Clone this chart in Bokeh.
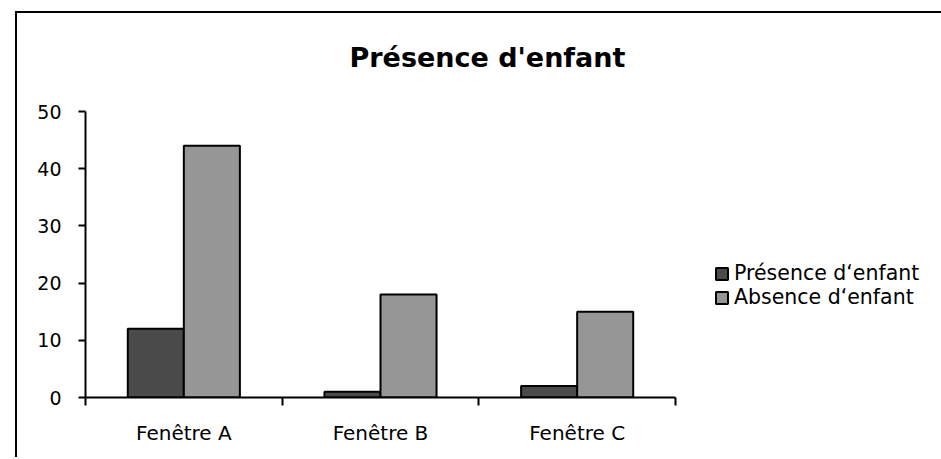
from bokeh.plotting import figure
from bokeh.models import ColumnDataSource, FixedTicker, Range1d, Legend, LegendItem
from bokeh.transform import dodge
from bokeh.embed import file_html
from bokeh.resources import INLINE

categories = ["Fenêtre A", "Fenêtre B", "Fenêtre C"]
presence = [12, 1, 2]
absence = [44, 18, 15]
series_labels = ["Présence d‘enfant", "Absence d‘enfant"]
title_text = "Présence d'enfant"
y_ticks = [0, 10, 20, 30, 40, 50]

FONT = "DejaVu Sans"
DARK = "#4b4b4b"
LIGHT = "#969696"

centers = [i + 0.5 for i in range(len(categories))]
bounds = [float(i) for i in range(len(categories) + 1)]
bar_w = 0.285
src = ColumnDataSource(dict(x=centers, presence=presence, absence=absence))

p = figure(frame_width=590, frame_height=286,
           x_range=Range1d(0, len(categories)), y_range=Range1d(0, 50),
           output_backend="svg", toolbar_location=None,
           min_border_left=85, min_border_right=263,
           min_border_top=111, min_border_bottom=60)
# chart-area outline (top and left edges), drawn as CSS background lines
p.styles = {
    "background": ("linear-gradient(#000, #000) 15px 11px / 2px 100% no-repeat, "
                   "linear-gradient(#000, #000) 15px 11px / 100% 2px no-repeat, #fff"),
}
p.outline_line_color = None
p.xgrid.visible = False
p.ygrid.visible = False
p.background_fill_color = "white"
p.border_fill_alpha = 0

r1 = p.vbar(x=dodge("x", -bar_w / 2, range=p.x_range), top="presence", width=bar_w,
            source=src, fill_color=DARK, line_color="black", line_width=2)
r2 = p.vbar(x=dodge("x", bar_w / 2, range=p.x_range), top="absence", width=bar_w,
            source=src, fill_color=LIGHT, line_color="black", line_width=2)

p.title.text = title_text
p.title.align = "left"
p.title.offset = 264
p.title.text_font = FONT
p.title.text_font_size = "27px"
p.title.text_font_style = "bold"
p.title.text_color = "black"
p.title.standoff = 78

# x axis: labels at centers, tick marks at category boundaries
xa = p.xaxis[0]
xa.ticker = FixedTicker(ticks=centers, minor_ticks=bounds)
xa.major_label_overrides = {c: lab for c, lab in zip(centers, categories)}
xa.major_tick_out = 0
xa.major_tick_in = 0
xa.minor_tick_out = 8
xa.minor_tick_in = 0
xa.minor_tick_line_width = 2
xa.minor_tick_line_color = "black"
xa.axis_line_width = 2
xa.axis_line_color = "black"
xa.major_label_standoff = 15
xa.major_label_text_font = FONT
xa.major_label_text_font_size = "20px"
xa.major_label_text_color = "black"

ya = p.yaxis[0]
ya.ticker = FixedTicker(ticks=y_ticks, minor_ticks=[])
ya.major_tick_out = 7
ya.major_tick_in = 0
ya.major_tick_line_width = 2
ya.major_tick_line_color = "black"
ya.minor_tick_out = 0
ya.minor_tick_in = 0
ya.axis_line_width = 2
ya.axis_line_color = "black"
ya.major_label_standoff = 17
ya.major_label_text_font = FONT
ya.major_label_text_font_size = "19px"
ya.major_label_text_color = "black"

legend = Legend(items=[LegendItem(label=series_labels[0], renderers=[r1]),
                       LegendItem(label=series_labels[1], renderers=[r2])],
                location=(39, 88), orientation="vertical",
                glyph_width=15, glyph_height=15, label_height=23, spacing=0,
                padding=0, margin=0, label_standoff=5,
                label_text_font=FONT, label_text_font_size="20.5px",
                label_text_color="black",
                border_line_color=None, background_fill_alpha=0)
p.add_layout(legend, "right")

open("out.html", "w").write(file_html(p, INLINE))
